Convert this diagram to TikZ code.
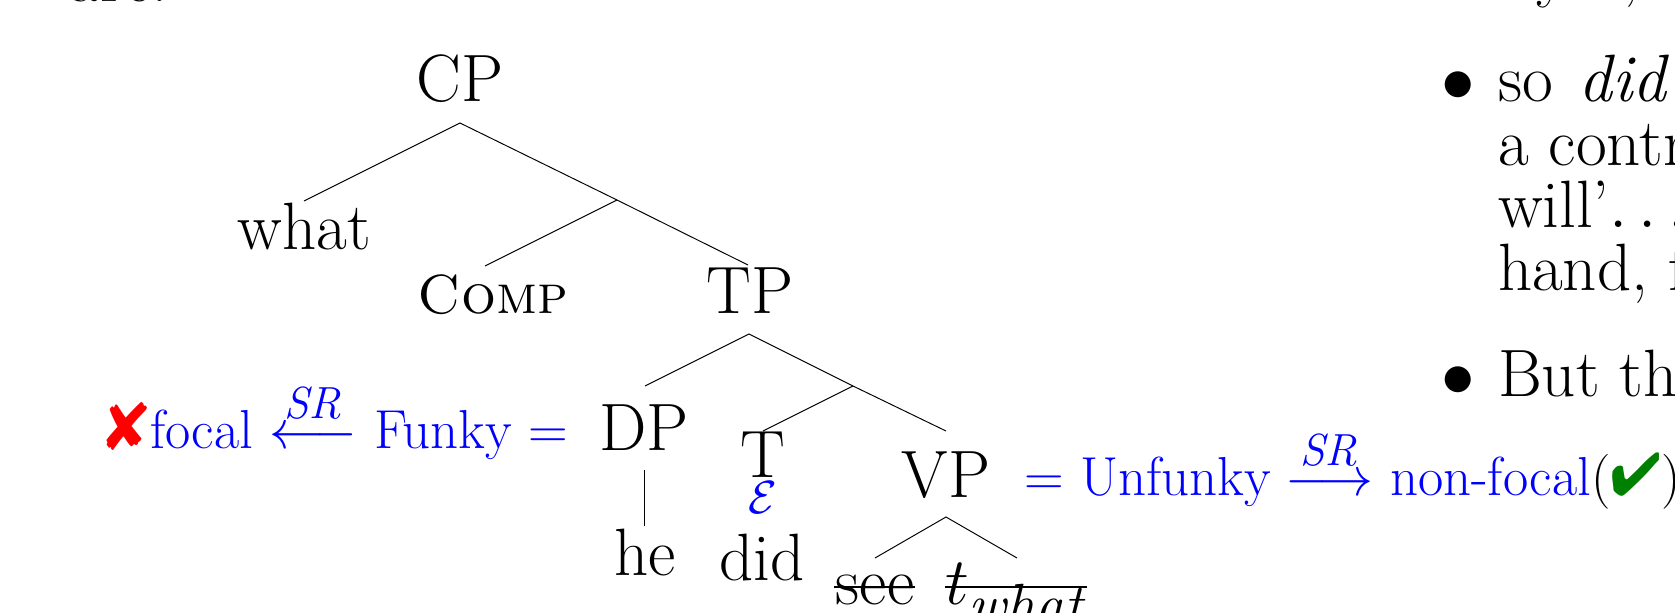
\documentclass[tikz,border=0pt]{standalone}
\usepackage{pifont}
\usepackage{graphicx}
\definecolor{okgreen}{rgb}{0,0.5,0}
\newcommand{\smalltxt}[1]{\scalebox{0.82}{#1}}
\newcommand{\srlabel}{\raisebox{1.0pt}{\scalebox{1.18}{$\scriptstyle\mathit{SR}$}}}
\tikzset{
  x=0.258pt,y=-0.258pt,
  lab/.style={anchor=base,inner sep=0pt,outer sep=0pt,font=\fontsize{17.28}{20}\selectfont},
  labw/.style={lab,anchor=base west},
  blue text/.style={labw,text=blue},
  branch/.style={line width=0.25pt,black},
  strike/.style={line width=0.35pt,black},
}
\begin{document}
\begin{tikzpicture}
\useasboundingbox (0,0) rectangle (1675,613);
\clip (0,0) rectangle (1675,613);
% clipped top fragments
\node[labw] (topl) at (70,2) {are.};
\node[labw] (topr) at (1536,-6) {y};
\node[labw] (topc) at (1622,-6) {,};
% tree labels
\node[lab] (CP) at (460,101) {CP};
\node[lab] (what) at (304,249) {what};
\node[lab,font=\fontsize{14.2}{18}\selectfont] (comp) at (493,313) {\textsc{Comp}};
\node[lab] (TP) at (750,313) {TP};
\node[lab] (DP) at (644,450) {DP};
\node[lab] (T) at (763,477) {T};
\node[lab] (VP) at (946,497) {VP};
\node[lab] (he) at (645,575) {he};
\node[lab] (did) at (762,580) {did};
\node[lab] (see) at (875,604) {see};
\node[labw] (twhat) at (945,604) {$t$\raisebox{-5.4pt}{\fontsize{15}{18}\selectfont\textit{what}}};
\node[lab,text=blue] (eps) at (763,513) {$\scriptstyle\mathcal{E}$};
% branch points
\coordinate (cpa) at (460,123);
\coordinate (wa) at (304,201);
\coordinate (j1) at (617,200);
\coordinate (ca) at (485,266);
\coordinate (ta) at (748,265);
\coordinate (tpa) at (749,334);
\coordinate (da) at (645,386);
\coordinate (j2) at (853,386);
\coordinate (te) at (763,431);
\coordinate (ve) at (946,431);
\coordinate (dt) at (644,470);
\coordinate (hb) at (644,526);
\coordinate (vpa) at (946,517);
\coordinate (se) at (875,558);
\coordinate (tw) at (1017,558);
\draw[branch] (wa) -- (cpa) -- (j1) -- (ta);
\draw[branch] (ca) -- (j1);
\draw[branch] (da) -- (tpa) -- (j2) -- (ve);
\draw[branch] (te) -- (j2);
\draw[branch] (dt) -- (hb);
\draw[branch] (se) -- (vpa) -- (tw);
% strikes
\coordinate (s1) at (834,587);
\coordinate (s2) at (915,587);
\coordinate (s3) at (945,587);
\coordinate (s4) at (1087,587);
\draw[strike] (s1) -- (s2);
\draw[strike] (s3) -- (s4);
% annotations
\node[labw,text=red] (xm) at (104,449) {\ding{56}};
\node[blue text] (focal) at (150,448) {\smalltxt{focal}};
\node[blue text] (arrL) at (269,448) {\smalltxt{$\stackrel{\srlabel}{\longleftarrow}$}};
\node[blue text] (funky) at (374,448) {\smalltxt{Funky =}};
\node[blue text] (unf) at (1024,495) {\smalltxt{= Unfunky}};
\node[blue text] (arrR) at (1285,495) {\smalltxt{$\stackrel{\srlabel}{\longrightarrow}$}};
\node[blue text] (nf) at (1390,495) {\smalltxt{non-focal}};
\node[labw] (par) at (1591,495) {\smalltxt{(\textcolor{okgreen}{\scalebox{1.1}{\ding{52}}})}};
% right column
\node[lab] (b1) at (1458,101) {$\bullet$};
\node[labw] (l1) at (1498,101) {so\hspace{6.65pt}\textit{did}};
\node[labw] (l2) at (1498,165) {a contr};
\node[labw] (l3) at (1498,227) {will'$\ldots$};
\node[labw] (l4) at (1498,290) {hand, f};
\node[lab] (b2) at (1458,396) {$\bullet$};
\node[labw] (l5) at (1498,396) {But th};
\end{tikzpicture}
\end{document}
